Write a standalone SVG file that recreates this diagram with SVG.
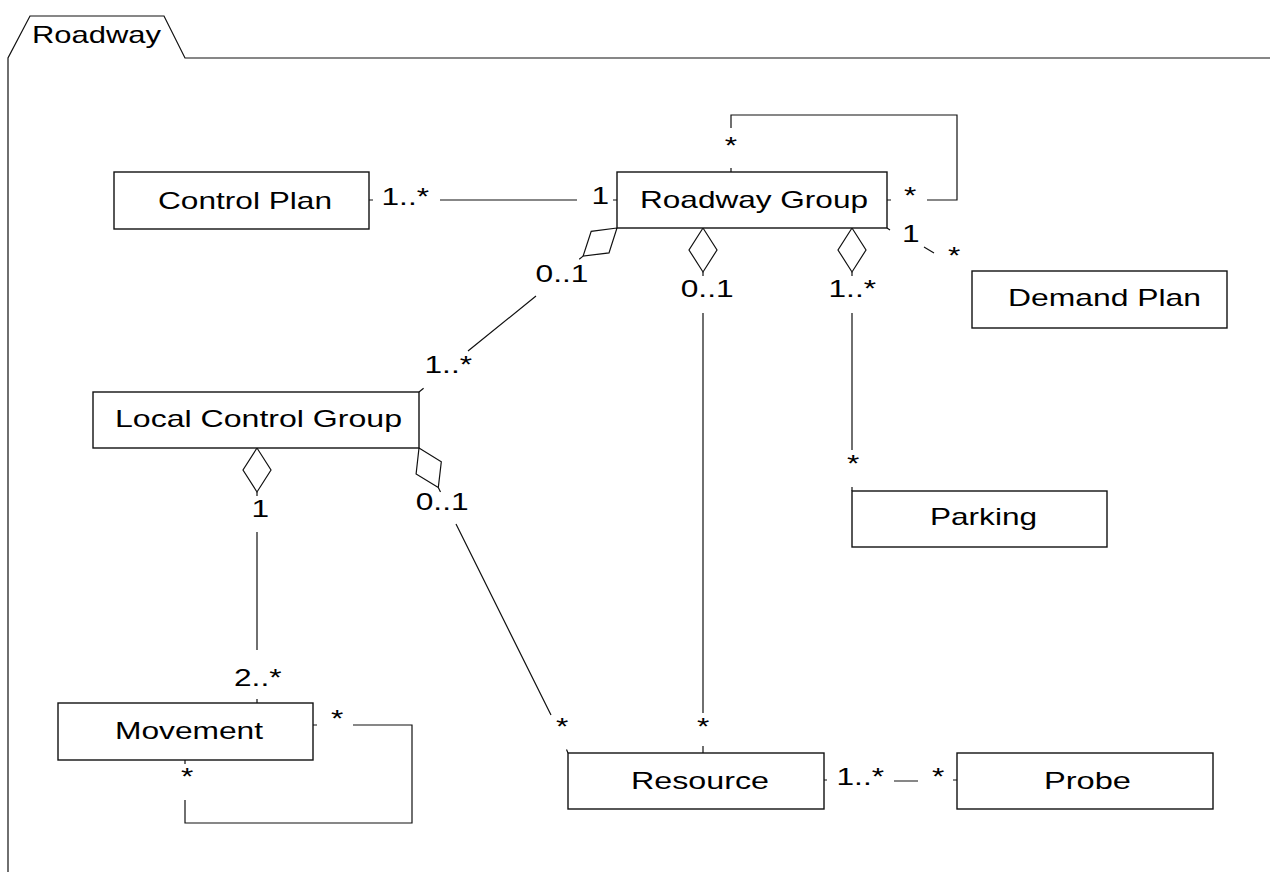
<svg xmlns="http://www.w3.org/2000/svg" width="1270" height="872" viewBox="0 0 1270 872">
<style>
  .box{fill:#fff;stroke:#111;stroke-width:1.4}
  .ln{fill:none;stroke:#111;stroke-width:1.2}
  .dia{fill:#fff;stroke:#111;stroke-width:1.2}
  text{font-family:"Liberation Sans",Arial,sans-serif;font-size:24px;fill:#000}
</style>
<rect width="1270" height="872" fill="#fff"/>
<g id="frame">
  <path class="ln" d="M8,872 V58 L30,16 H164 L185,58 H1270"/>
  <text x="32" y="43" textLength="129" lengthAdjust="spacingAndGlyphs">Roadway</text>
</g>
<g id="connectors">
  <!-- Control Plan - Roadway Group -->
  <path class="ln" d="M369,200 H373 M440,200 H577 M613,200 H617"/>
  <text x="381.5" y="205" textLength="47.5" lengthAdjust="spacingAndGlyphs">1..*</text>
  <text x="591.5" y="204" textLength="17.6" lengthAdjust="spacingAndGlyphs">1</text>
  <!-- Roadway Group self -->
  <path class="ln" d="M731,172 V168 M731,128 V115 H957 V200 H927 M887,200 H891"/>
  <text x="724.8" y="154" textLength="12.3" lengthAdjust="spacingAndGlyphs">*</text>
  <text x="904" y="204" textLength="12.3" lengthAdjust="spacingAndGlyphs">*</text>
  <!-- Roadway Group - Demand Plan -->
  <path class="ln" d="M887,228 L890,230 M924,247 L934,253"/>
  <text x="902" y="242" textLength="17.6" lengthAdjust="spacingAndGlyphs">1</text>
  <text x="948" y="264" textLength="12.3" lengthAdjust="spacingAndGlyphs">*</text>
  <!-- Roadway Group - Local Control Group -->
  <polygon class="dia" points="617,228 591.2,231.3 583.1,256.1 609,252.9"/>
  <path class="ln" d="M583.1,256.1 L579.2,259.3 M536,296 L468,351 M423.6,388.2 L419,392"/>
  <text x="535.5" y="282" textLength="52.9" lengthAdjust="spacingAndGlyphs">0..1</text>
  <text x="424.5" y="373" textLength="47.5" lengthAdjust="spacingAndGlyphs">1..*</text>
  <!-- Roadway Group - Resource -->
  <polygon class="dia" points="703,228 689,250 703,272 717,250"/>
  <path class="ln" d="M703,272 V276 M703,313 V713 M703,746 V753"/>
  <text x="680.7" y="297" textLength="52.9" lengthAdjust="spacingAndGlyphs">0..1</text>
  <text x="697" y="735" textLength="12.3" lengthAdjust="spacingAndGlyphs">*</text>
  <!-- Roadway Group - Parking -->
  <polygon class="dia" points="852,228 838,250 852,272 866,250"/>
  <path class="ln" d="M852,272 V276 M852,313 V450 M852,487 V491"/>
  <text x="828.5" y="297" textLength="47.5" lengthAdjust="spacingAndGlyphs">1..*</text>
  <text x="847" y="472" textLength="12.3" lengthAdjust="spacingAndGlyphs">*</text>
  <!-- Local Control Group - Movement -->
  <polygon class="dia" points="257,448 243,470 257,492 271,470"/>
  <path class="ln" d="M257,492 V496 M257,532 V650 M257,699 V703"/>
  <text x="251.5" y="517" textLength="17.6" lengthAdjust="spacingAndGlyphs">1</text>
  <text x="234" y="686" textLength="47.5" lengthAdjust="spacingAndGlyphs">2..*</text>
  <!-- Local Control Group - Resource -->
  <polygon class="dia" points="419,448 441.3,461.7 438.3,487.6 416.1,473.9"/>
  <path class="ln" d="M438.3,487.6 L440.5,492.1 M456,524 L551,715 M568,753 L566.5,749.5"/>
  <text x="415.7" y="510" textLength="52.9" lengthAdjust="spacingAndGlyphs">0..1</text>
  <text x="556" y="735" textLength="12.3" lengthAdjust="spacingAndGlyphs">*</text>
  <!-- Movement self -->
  <path class="ln" d="M313,725 H317 M353,725 H412 V823 H185 V800 M185,760 V764"/>
  <text x="331" y="727" textLength="12.3" lengthAdjust="spacingAndGlyphs">*</text>
  <text x="181" y="785" textLength="12.3" lengthAdjust="spacingAndGlyphs">*</text>
  <!-- Resource - Probe -->
  <path class="ln" d="M824,780 H827 M894,781 H918 M953,780 H957"/>
  <text x="836.5" y="785" textLength="47.5" lengthAdjust="spacingAndGlyphs">1..*</text>
  <text x="932" y="785" textLength="12.3" lengthAdjust="spacingAndGlyphs">*</text>
</g>
<g id="control-plan">
  <rect class="box" x="114" y="172" width="255" height="57"/>
  <text x="158" y="209" textLength="174" lengthAdjust="spacingAndGlyphs">Control Plan</text>
</g>
<g id="roadway-group">
  <rect class="box" x="617" y="172" width="270" height="56"/>
  <text x="640" y="208" textLength="228" lengthAdjust="spacingAndGlyphs">Roadway Group</text>
</g>
<g id="demand-plan">
  <rect class="box" x="972" y="271" width="255" height="57"/>
  <text x="1008" y="306" textLength="193" lengthAdjust="spacingAndGlyphs">Demand Plan</text>
</g>
<g id="local-control-group">
  <rect class="box" x="93" y="392" width="326" height="56"/>
  <text x="115" y="427" textLength="287" lengthAdjust="spacingAndGlyphs">Local Control Group</text>
</g>
<g id="parking">
  <rect class="box" x="852" y="491" width="255" height="56"/>
  <text x="930" y="525" textLength="107" lengthAdjust="spacingAndGlyphs">Parking</text>
</g>
<g id="movement">
  <rect class="box" x="58" y="703" width="255" height="57"/>
  <text x="115" y="739" textLength="148" lengthAdjust="spacingAndGlyphs">Movement</text>
</g>
<g id="resource">
  <rect class="box" x="568" y="753" width="256" height="56"/>
  <text x="631" y="789" textLength="138" lengthAdjust="spacingAndGlyphs">Resource</text>
</g>
<g id="probe">
  <rect class="box" x="957" y="753" width="256" height="56"/>
  <text x="1044" y="789" textLength="87" lengthAdjust="spacingAndGlyphs">Probe</text>
</g>
</svg>
